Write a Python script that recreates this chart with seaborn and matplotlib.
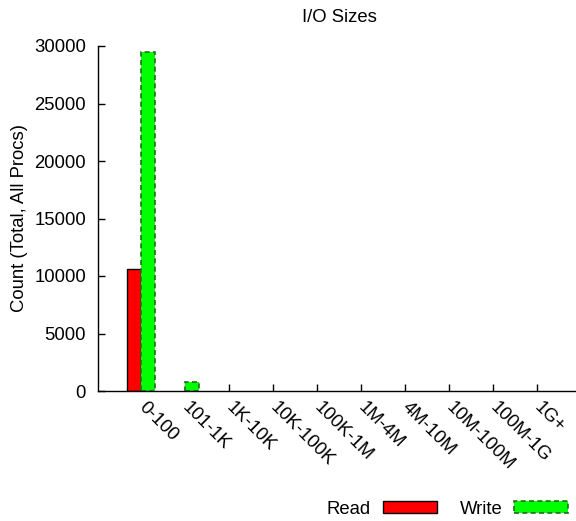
import pandas as pd
import seaborn as sns
import matplotlib
matplotlib.use('Agg')
import matplotlib.pyplot as plt
from matplotlib.patches import Patch

categories = ['0-100', '101-1K', '1K-10K', '10K-100K', '100K-1M',
              '1M-4M', '4M-10M', '10M-100M', '100M-1G', '1G+']
read_counts = [10650, 0, 0, 0, 0, 0, 0, 0, 0, 0]
write_counts = [29450, 800, 0, 0, 0, 0, 0, 0, 0, 0]
y_ticks = [0, 5000, 10000, 15000, 20000, 25000, 30000]

sns.set_theme(style='ticks')
plt.rcParams['font.family'] = ['Liberation Sans', 'DejaVu Sans']
plt.rcParams['font.size'] = 13.3
plt.rcParams['text.color'] = 'black'

df = pd.DataFrame({
	'size': categories * 2,
	'count': read_counts + write_counts,
	'op': ['Read'] * len(categories) + ['Write'] * len(categories),
})

fig = plt.figure(figsize=(5.76, 5.21), dpi=100)
ax = fig.add_axes([98 / 576, 1 - 391 / 521, 478 / 576, 345 / 521])

sns.barplot(data=df, x='size', y='count', hue='op', order=categories,
            hue_order=['Read', 'Write'], palette={'Read': '#ff0000', 'Write': '#00ff00'},
            width=0.64, gap=0, legend=False, ax=ax, saturation=1)

# read bars get a solid black edge, write bars a dashed dark green one
n = len(categories)
for i, bar in enumerate(ax.patches[:2 * n]):
	if bar.get_height() == 0:
		bar.set_linewidth(0)
		continue
	if i < n:
		bar.set_edgecolor('black')
		bar.set_linewidth(1.0)
	else:
		bar.set_edgecolor('#1f6e1f')
		bar.set_linewidth(1.2)
		bar.set_linestyle((0, (3, 2)))

ax.set_xlim(-0.98, 9.89)
ax.set_ylim(0, 30000)
ax.set_yticks(y_ticks)
ax.set_yticklabels([str(v) for v in y_ticks])
ax.set_xlabel('')
ax.set_ylabel('')
ax.set_axisbelow(True)

sns.despine(ax=ax)
ax.spines['left'].set_linewidth(1.0)
ax.spines['bottom'].set_linewidth(1.0)
ax.spines['left'].set_color('black')
ax.spines['bottom'].set_color('black')

ax.tick_params(axis='both', direction='in', length=5, width=1, colors='black', labelsize=13.3)
ax.tick_params(axis='y', pad=8.6)
ax.tick_params(axis='x', pad=10)
for lbl in ax.get_xticklabels():
	lbl.set_rotation(-45)
	lbl.set_ha('left')
	lbl.set_va('center')
	lbl.set_rotation_mode('anchor')

fig.text(339 / 576, 1 - 18 / 521, 'I/O Sizes', ha='center', va='center', fontsize=13.3)
fig.text(20 / 576, 1 - 218 / 521, 'Count (Total, All Procs)', rotation=90,
         ha='center', va='center', fontsize=13.3)

handles = [Patch(facecolor='#ff0000', edgecolor='black', linewidth=1.0, label='Read'),
           Patch(facecolor='#00ff00', edgecolor='#1f6e1f', linewidth=1.2,
                 linestyle=(0, (3, 2)), label='Write')]
fig.legend(handles=handles, loc='center right', bbox_to_anchor=(568 / 576, 1 - 509 / 521),
           ncol=2, frameon=False, markerfirst=False, borderaxespad=0, borderpad=0,
           handlelength=2.9, handleheight=0.55, handletextpad=0.65, columnspacing=1.25,
           fontsize=13.3)

fig.savefig('out.png', dpi=100)
